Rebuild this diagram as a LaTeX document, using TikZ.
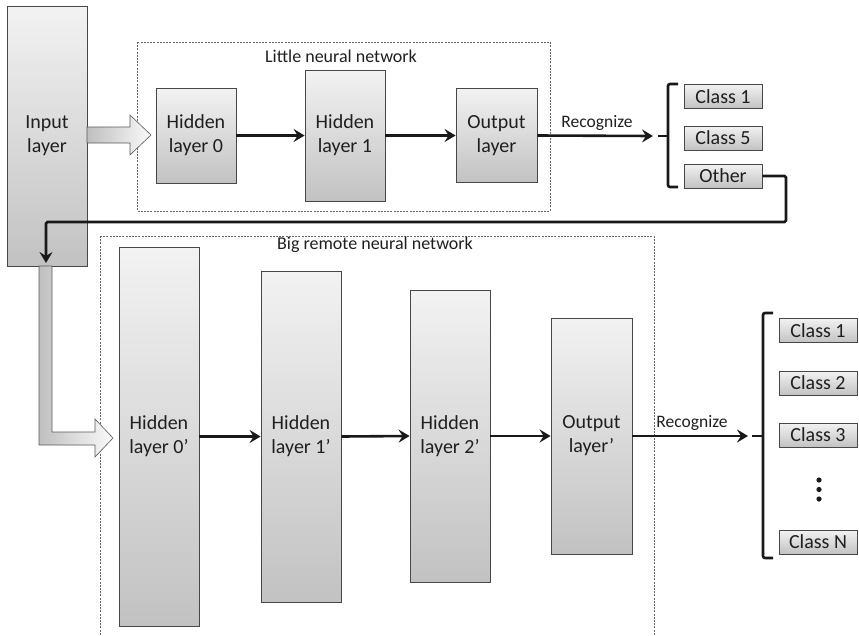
\documentclass[tikz,border=0pt]{standalone}
\usepackage{fontspec}
\setmainfont{Carlito}
\usetikzlibrary{arrows.meta}
\begin{document}
\begin{tikzpicture}[x=1pt,y=-1pt,
  layer/.style={draw=black!72, line width=0.8pt, top color=black!5, bottom color=black!24,
    align=center, font=\fontsize{20}{24}\selectfont, text=black!88, inner sep=0pt},
  cls/.style={draw=black!72, line width=0.8pt, top color=black!5, bottom color=black!24,
    minimum width=78pt, minimum height=24pt, font=\fontsize{20}{22}\selectfont, text=black!88, inner sep=0pt},
  flow/.style={line width=2.6pt, draw=black!90, -{Stealth[length=11pt,width=13pt,inset=4pt]}},
  net/.style={draw=black!60, dash pattern=on 2pt off 1.2pt, line width=0.8pt},
  brk/.style={draw=black!90, line width=2.6pt, rounded corners=2pt},
  hollow/.style={draw=black!65, line width=0.6pt, left color=black!25, right color=black!2},
  lbl/.style={font=\fontsize{18}{20}\selectfont, text=black!88, inner sep=0pt},
  rec/.style={font=\fontsize{17.5}{20}\selectfont, text=black!88, inner sep=0pt}]
\useasboundingbox (0,0) rectangle (859,635);

% dashed network frames
\draw[net] (137,42) rectangle (550,211);
\node[lbl] (lt) at (341,56) {Little neural network};
\draw[net] (100,236) -- (654,236) (100,236) -- (100,640) (654,236) -- (654,640);
\node[lbl] (bt) at (375,245) {Big remote neural network};

% input layer
\node[layer, minimum width=80pt, minimum height=260pt] (in) at (47,136) {Input\\layer};

% little network
\node[layer, minimum width=80pt, minimum height=95pt] (h0) at (196,135.5) {Hidden\\layer 0};
\node[layer, minimum width=80pt, minimum height=131pt] (h1) at (345,135.5) {Hidden\\layer 1};
\node[layer, minimum width=81pt, minimum height=94pt] (o) at (496.5,135.5) {Output\\layer};

% big network
\node[layer, minimum width=80pt, minimum height=379pt] (bh0) at (159,436.5) {Hidden\\layer 0’};
\node[layer, minimum width=80pt, minimum height=331pt] (bh1) at (301,436.5) {Hidden\\layer 1’};
\node[layer, minimum width=80pt, minimum height=292pt] (bh2) at (450,436) {Hidden\\layer 2’};
\node[layer, minimum width=81pt, minimum height=236pt] (bo) at (591.5,436) {Output\\layer’};

% hollow arrows
\draw[hollow] (87,127) -- (130,127) -- (130,115) -- (151,135) -- (130,155) -- (130,143) -- (87,143) -- cycle;
\draw[hollow] (39,266) -- (52,266) -- (52,432) -- (95,432) -- (95,419) -- (113,438) -- (95,457) -- (95,445) -- (39,445) -- cycle;

% little classes
\node[cls] (c1) at (723,96.5) {Class 1};
\node[cls] (c5) at (723,138) {Class 5};
\node[cls] (oth) at (723,176) {Other};

% big classes
\node[cls] (k1) at (818,330.5) {Class 1};
\node[cls] (k2) at (818,383) {Class 2};
\node[cls] (k3) at (818,435) {Class 3};
\node[cls] (kn) at (818,542) {Class N};
\fill[black!90] (819,480) circle (2.6pt) (819,489.5) circle (2.6pt) (819,499) circle (2.6pt);

% brackets
\draw[brk] (678,84) -- (668,84) -- (668,187) -- (678,187);
\draw[brk] (658,136) -- (668,136);
\draw[brk] (773,313) -- (763,313) -- (763,558) -- (773,558);
\draw[brk] (752,436) -- (763,436);

% connectors
\coordinate (r1) at (653,136);
\coordinate (r2) at (748,436);
\coordinate (p1) at (786,222);
\coordinate (p2) at (46,222);
\coordinate (p3) at (46,263);
\draw[flow] (h0.east) -- (h1.west);
\draw[flow] (h1.east) -- (o.west);
\draw[flow] (o.east) -- (r1);
\node[rec] (rl1) at (597,123) {Recognize};
\draw[flow] (bh0.east) -- (bh1.west);
\draw[flow] (bh1.east) -- (bh2.west);
\draw[flow] (bh2.east) -- (bo.west);
\draw[flow] (bo.east) -- (r2);
\node[rec] (rl2) at (692,423) {Recognize};
\draw[flow, rounded corners=1.5pt] (oth.east) -| (p1) -- (p2) -- (p3);
\end{tikzpicture}
\end{document}
